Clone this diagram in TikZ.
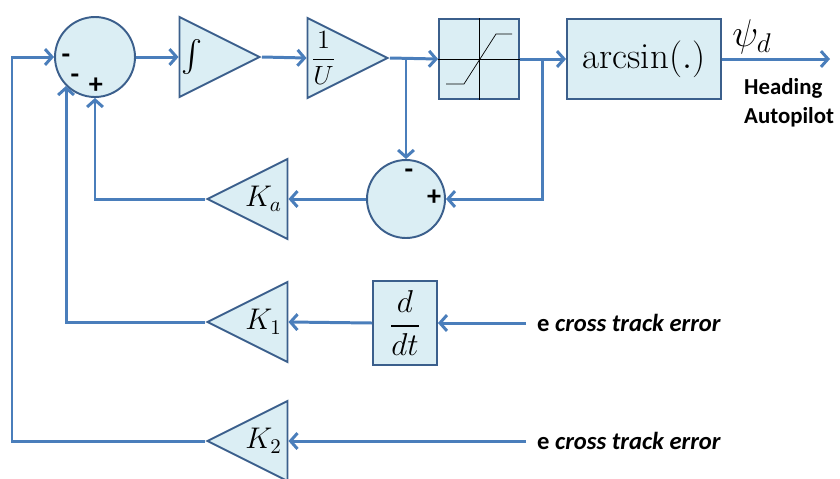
\RequirePackage{fix-cm}
\documentclass[tikz,border=0pt]{standalone}
\usepackage{amsmath, amssymb}
\usepackage{fontspec}
\setsansfont{Carlito}
\usetikzlibrary{arrows.meta, shapes.geometric, calc}
\definecolor{Wire}{HTML}{4A7EBB}
\definecolor{Edge}{HTML}{3B5F8C}
\definecolor{Pale}{HTML}{DBEEF4}

\tikzset{
  blk/.style={draw=Edge, fill=Pale, line width=1.1pt, inner sep=0pt},
  sumnode/.style={blk, circle, minimum size=1.6cm},
  gain/.style={blk, isosceles triangle, isosceles triangle stretches,
    minimum width=1.6cm, minimum height=1.6cm},
  wire/.style={draw=Wire, line width=1.7pt},
  sgn/.style={font=\sffamily\bfseries\fontsize{16}{16}\selectfont, inner sep=0pt},
  note/.style={font=\sffamily\bfseries\fontsize{14}{17}\selectfont}
}

\begin{document}
\begin{tikzpicture}[x=0.02cm, y=-0.02cm, >={Straight Barb[length=4pt,width=9pt]}]
  \useasboundingbox (0,0) rectangle (840,478);

  % forward path
  \node[sumnode] (sum1) at (95,57) {};
  \node[gain, anchor=apex] (int) at (262,57) {};
  \node[gain, anchor=apex] (ovr) at (390,58) {};
  \node[blk, minimum width=1.6cm, minimum height=1.6cm] (sat) at (479,59) {};
  \node[blk, minimum width=3.08cm, minimum height=1.6cm,
        font=\fontsize{21}{21}\selectfont] (asin) at (644,59) {$\arcsin(.)$};
  \node at ($(int.lower side)+(14,0)$) {\fontsize{18}{18}\selectfont$\int$};
  \node at ($(ovr.lower side)+(17,0)$) {\fontsize{15}{15}\selectfont$\dfrac{1}{U}$};

  % saturation curve
  \draw[black, thin] (sat.north) -- (sat.south) (sat.west) -- (sat.east);
  \draw[black, thin] ($(sat)+(-33,25)$) -- ++(18,0) -- ++(32,-50) -- ++(16,0);

  % inner loop
  \node[sumnode, minimum size=1.56cm] (sum2) at (406,199) {};

  % feedback gains
  \foreach \n/\y/\lab in {ka/199/K_a, k1/322/K_1, k2/441/K_2} {
    \node[gain, shape border rotate=180, anchor=apex] (\n) at (205,\y) {};
    \node[font=\fontsize{17}{17}\selectfont] at ($(\n.lower side)+(-25,0)$) {$\lab$};
  }
  \node[blk, minimum width=1.28cm, minimum height=1.68cm,
        font=\fontsize{18}{18}\selectfont] (ddt) at (405,323) {$\dfrac{d}{dt}$};

  % inputs and output
  \coordinate (in1) at (526,323);
  \coordinate (in2) at (526,441);
  \coordinate (out) at (830,59);
  \foreach \c in {in1, in2}
    \node[note, anchor=west] at ($(\c)+(5,0)$) {e \itshape cross track error};
  \node[font=\fontsize{22}{22}\selectfont] (psi) at (752,37) {$\psi_d$};
  \node[font=\sffamily\bfseries\fontsize{13}{16.5}\selectfont,
        anchor=west, align=left] (hdg) at (738,103) {Heading\\Autopilot};

  % connectors
  \draw[wire, ->] (sum1.east) -- (int.lower side);
  \draw[wire, ->] (int.apex) -- (ovr.lower side);
  \draw[wire, ->] (ovr.apex) -- (sat.west);
  \draw[wire, ->] (ovr.apex -| sum2.north) -- (sum2.north);
  \draw[wire, ->] (sat.east) -- (asin.west);
  \draw[wire, ->] ($(sat.east)+(23,0)$) |- (sum2.east);
  \draw[wire, ->] (asin.east) -- (out);
  \draw[wire, ->] (sum2.west) -- (ka.lower side);
  \draw[wire, ->] (ka.apex) -| (sum1.south);
  \draw[wire, ->] (k1.apex) -| (sum1.225);
  \draw[wire, ->] (k2.apex) -- (12,441) |- (sum1.west);
  \draw[wire, ->] (in1) -- (ddt.east);
  \draw[wire, ->] (ddt.west) -- (k1.lower side);
  \draw[wire, ->] (in2) -- (k2.lower side);

  % signs
  \node[sgn] (m1) at (66,59) {-};
  \node[sgn] (m2) at (75,79) {-};
  \node[sgn] (p1) at (96,86) {+};
  \node[sgn] (m3) at (409,174) {-};
  \node[sgn] (p2) at (434,198) {+};
\end{tikzpicture}
\end{document}
